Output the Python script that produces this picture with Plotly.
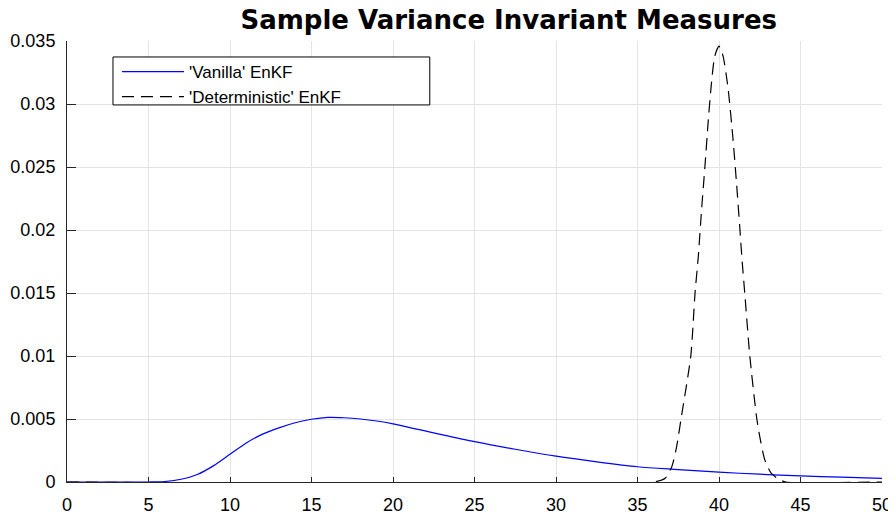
import plotly.graph_objects as go

# ---- data ----
vanilla_x = [0, 5, 6, 7, 8, 9, 10, 11, 12, 13, 14, 15, 16, 17, 18, 19, 20,
             22.5, 25, 27.5, 30, 32.5, 35, 37.5, 40, 42.5, 45, 47.5, 50]
vanilla_y = [0, 0, 0.00004, 0.00022, 0.0006, 0.0013, 0.0022, 0.0031, 0.0038,
             0.0043, 0.0047, 0.00498, 0.00513, 0.0051, 0.005, 0.00484, 0.00462,
             0.0039, 0.0032, 0.0026, 0.00205, 0.0016, 0.00121, 0.00099, 0.00078,
             0.00062, 0.00049, 0.00038, 0.00028]

det_x = [0, 36.0, 36.7, 37.1, 37.4, 37.67, 38.27, 38.53, 38.73, 38.93, 39.14,
         39.33, 39.54, 39.74, 40.0, 40.25, 40.56, 40.86, 41.07, 41.27, 41.41,
         41.58, 41.89, 42.3, 42.5, 42.8, 43.2, 43.7, 44.1, 50]
det_y = [0, 0, 0.0003, 0.0012, 0.0028, 0.005, 0.01, 0.015, 0.0179, 0.0216,
         0.0251, 0.0285, 0.0317, 0.0338, 0.0346, 0.0338, 0.0312, 0.0272, 0.0238,
         0.0203, 0.0177, 0.015, 0.01, 0.0052, 0.0036, 0.0018, 0.0007, 0.0002, 0, 0]

x_ticks = [0, 5, 10, 15, 20, 25, 30, 35, 40, 45, 50]
y_ticks = [0, 0.005, 0.01, 0.015, 0.02, 0.025, 0.03, 0.035]
y_tick_labels = ["0", "0.005", "0.01", "0.015", "0.02", "0.025", "0.03", "0.035"]

series_names = ["'Vanilla' EnKF", "'Deterministic' EnKF"]
title_text = "Sample Variance Invariant Measures"

# The page body adds an 8px offset; lay the figure out in screen pixels.
W, H = 896, 514
OFF = 8
SL, SR, ST, SB = 67, 882.5, 41, 482.5          # plot area in screen pixels
L, T = SL - OFF, ST - OFF
R, B = W - (SR - OFF), H - (SB - OFF)
pw, ph = SR - SL, SB - ST


def px2x(p):
    return (p - SL) / pw


def px2y(p):
    return (SB - p) / ph


fig = go.Figure()
fig.add_trace(go.Scatter(x=vanilla_x, y=vanilla_y, mode="lines", name=series_names[0],
                         line=dict(color="#0000ff", width=1.2, shape="spline", smoothing=0.8)))
fig.add_trace(go.Scatter(x=det_x, y=det_y, mode="lines", name=series_names[1],
                         line=dict(color="#000000", width=1.2, dash="12px,7px",
                                   shape="spline", smoothing=0.6)))

axis_common = dict(showgrid=True, gridcolor="#e3e3e3", gridwidth=1, zeroline=False,
                   showline=True, linecolor="#262626", linewidth=1, ticks="inside",
                   tickcolor="#262626", mirror=False, automargin=False,
                   tickfont=dict(family="Liberation Sans, Arial, sans-serif", size=18, color="#000000"))

fig.update_xaxes(range=[0, 50], tickvals=x_ticks, ticklen=5, ticklabelstandoff=6, **axis_common)
fig.update_yaxes(range=[0, 0.035], tickvals=y_ticks, ticktext=y_tick_labels, ticklen=9,
                 ticklabelstandoff=7, **axis_common)

fig.add_shape(type="rect", xref="paper", yref="paper",
              x0=px2x(113), x1=px2x(430), y0=px2y(105), y1=px2y(57),
              line=dict(color="#000000", width=1), fillcolor="#ffffff", layer="above")

fig.update_layout(
    width=W, height=H,
    margin=dict(l=L, r=R, t=T, b=B, autoexpand=False),
    paper_bgcolor="#ffffff", plot_bgcolor="#ffffff",
    title=dict(text="<b>" + title_text + "</b>", x=px2x(509), xref="paper", xanchor="center",
               y=1, yref="container", yanchor="top", pad=dict(t=3),
               font=dict(family="DejaVu Sans, sans-serif", size=26, color="#000000")),
    legend=dict(x=px2x(117), y=px2y(54), xanchor="left", yanchor="top",
                bgcolor="rgba(255,255,255,0)", borderwidth=0, itemwidth=62,
                font=dict(family="Liberation Sans, Arial, sans-serif", size=17, color="#000000")),
    showlegend=True,
)

fig.write_html("out.html")
